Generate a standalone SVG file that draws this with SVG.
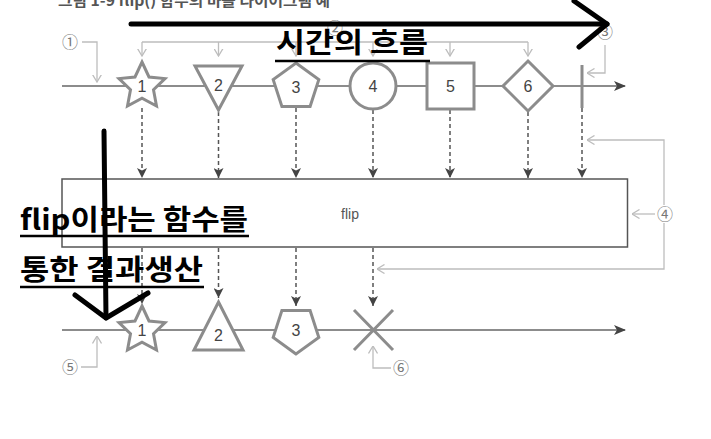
<svg xmlns="http://www.w3.org/2000/svg" width="711" height="439" viewBox="0 0 711 439">
<style>
.shape{fill:#fff;stroke:#8c8c8c;stroke-width:3;stroke-linejoin:miter}
.lbl{font-family:"Liberation Sans",Arial,sans-serif;font-size:16px;fill:#444;text-anchor:middle}
.axis{stroke:#666;stroke-width:1.5;fill:none}
.dash{stroke:#555;stroke-width:1.5;stroke-dasharray:4 3;fill:none}
.ann{stroke:#bdbdbd;stroke-width:1.3;fill:none}
.num{font-family:"Noto Sans CJK KR","DejaVu Sans",sans-serif;font-size:16px;fill:#777;text-anchor:middle}
.over{font-family:"Noto Sans CJK KR","Noto Sans",sans-serif;font-weight:bold;font-size:28px;fill:#000}
.ink{stroke:#000;stroke-width:5;fill:none;stroke-linecap:round;stroke-linejoin:round}
.uline{stroke:#000;stroke-width:2.5}
</style>
<defs>
<marker id="axisHead" viewBox="0 0 12 10" refX="11" refY="5" markerWidth="12" markerHeight="10" markerUnits="userSpaceOnUse" orient="auto">
<path d="M0,0 L12,5 L0,10 L3,5 Z" fill="#444"/>
</marker>
<marker id="dashHead" viewBox="0 0 10 10" refX="10" refY="5" markerWidth="10" markerHeight="10" markerUnits="userSpaceOnUse" orient="auto">
<path d="M0,0 L10,5 L0,10 L2.5,5 Z" fill="#444"/>
</marker>
<marker id="openHead" viewBox="0 0 8 10" refX="7.5" refY="5" markerWidth="8" markerHeight="10" markerUnits="userSpaceOnUse" orient="auto">
<path d="M0,0.5 L7.5,5 L0,9.5" fill="none" stroke="#bdbdbd" stroke-width="1.3"/>
</marker>
<path id="star" d="M0,-24 L7,-9 L23,-7.4 L11.5,3.8 L14.5,20 L0,12.2 L-14.5,20 L-11.5,3.8 L-23,-7.4 L-7,-9 Z"/>
</defs>

<rect width="711" height="439" fill="#fff"/>

<text x="58" y="6" font-family="Noto Sans CJK KR,sans-serif" font-size="15" font-weight="bold" fill="#555" textLength="272" lengthAdjust="spacingAndGlyphs">그림 1-9 flip() 함수의 마블 다이어그램 예</text>

<g id="connectors">
<line class="axis" x1="62" y1="86" x2="625" y2="86" marker-end="url(#axisHead)"/>
<line class="axis" x1="62" y1="330" x2="625" y2="330" marker-end="url(#axisHead)"/>
<line class="dash" x1="142" y1="108" x2="142" y2="178" marker-end="url(#dashHead)"/>
<line class="dash" x1="218.5" y1="112" x2="218.5" y2="178" marker-end="url(#dashHead)"/>
<line class="dash" x1="296" y1="108" x2="296" y2="178" marker-end="url(#dashHead)"/>
<line class="dash" x1="373" y1="110" x2="373" y2="178" marker-end="url(#dashHead)"/>
<line class="dash" x1="450" y1="110" x2="450" y2="178" marker-end="url(#dashHead)"/>
<line class="dash" x1="528" y1="112" x2="528" y2="178" marker-end="url(#dashHead)"/>
<line class="dash" x1="582" y1="108" x2="582" y2="178" marker-end="url(#dashHead)"/>
<line class="dash" x1="142" y1="248" x2="142" y2="304" marker-end="url(#dashHead)"/>
<line class="dash" x1="218.5" y1="248" x2="218.5" y2="298" marker-end="url(#dashHead)"/>
<line class="dash" x1="296" y1="248" x2="296" y2="306" marker-end="url(#dashHead)"/>
<line class="dash" x1="373" y1="248" x2="373" y2="306" marker-end="url(#dashHead)"/>
</g>

<g id="annotations">
<text class="num" x="70" y="48">①</text>
<polyline class="ann" points="82,42 97,42 97,82" marker-end="url(#openHead)"/>
<text class="num" x="335" y="34">②</text>
<line class="ann" x1="142" y1="42" x2="528" y2="42"/>
<line class="ann" x1="142" y1="42" x2="142" y2="56" marker-end="url(#openHead)"/>
<line class="ann" x1="218.5" y1="42" x2="218.5" y2="56" marker-end="url(#openHead)"/>
<line class="ann" x1="296" y1="42" x2="296" y2="56" marker-end="url(#openHead)"/>
<line class="ann" x1="373" y1="42" x2="373" y2="56" marker-end="url(#openHead)"/>
<line class="ann" x1="450" y1="42" x2="450" y2="56" marker-end="url(#openHead)"/>
<line class="ann" x1="528" y1="42" x2="528" y2="56" marker-end="url(#openHead)"/>
<text class="num" x="605" y="38">③</text>
<polyline class="ann" points="605,45 605,73 587,73" marker-end="url(#openHead)"/>
<text class="num" x="665" y="220">④</text>
<line class="ann" x1="655" y1="214" x2="632" y2="214" marker-end="url(#openHead)"/>
<polyline class="ann" points="664,205 664,140 587,140" marker-end="url(#openHead)"/>
<polyline class="ann" points="664,223 664,269 377,269" marker-end="url(#openHead)"/>
<text class="num" x="70" y="373">⑤</text>
<polyline class="ann" points="81,367 97,367 97,336" marker-end="url(#openHead)"/>
<text class="num" x="401" y="374">⑥</text>
<polyline class="ann" points="391,368 373,368 373,346" marker-end="url(#openHead)"/>
</g>

<g id="node-star1"><use href="#star" class="shape" transform="translate(142,86)"/><text class="lbl" x="142" y="92">1</text></g>
<g id="node-tri2"><polygon class="shape" points="195,66 242,66 218.5,110"/><text class="lbl" x="218.5" y="91">2</text></g>
<g id="node-pent3"><polygon class="shape" points="296,63 318.8,79.6 310.1,106.4 281.9,106.4 273.2,79.6"/><text class="lbl" x="296" y="93">3</text></g>
<g id="node-circle4"><circle class="shape" cx="373" cy="86" r="23"/><text class="lbl" x="373" y="92">4</text></g>
<g id="node-square5"><rect class="shape" x="427" y="63" width="47" height="46"/><text class="lbl" x="450.5" y="92">5</text></g>
<g id="node-diamond6"><polygon class="shape" points="528,61 553,86 528,111 503,86"/><text class="lbl" x="528" y="92">6</text></g>
<g id="node-complete"><line x1="582" y1="65" x2="582" y2="108" stroke="#8c8c8c" stroke-width="3"/></g>

<g id="node-flip"><rect x="62" y="179" width="565.5" height="68" fill="#fff" stroke="#555" stroke-width="1.5"/><text x="350" y="219" font-family="Liberation Sans,Arial,sans-serif" font-size="14" fill="#555" text-anchor="middle">flip</text></g>

<g id="node-out-star1"><use href="#star" class="shape" transform="translate(142,330)"/><text class="lbl" x="142" y="336">1</text></g>
<g id="node-out-tri2"><polygon class="shape" points="218.5,302 243,350 194,350"/><text class="lbl" x="218.5" y="341">2</text></g>
<g id="node-out-pent3"><polygon class="shape" points="296,354 273.2,337.4 281.9,310.6 310.1,310.6 318.8,337.4"/><text class="lbl" x="296" y="336">3</text></g>
<g id="node-out-error"><path d="M354,310 L393,350 M393,310 L354,350" stroke="#8c8c8c" stroke-width="3" fill="none"/></g>

<g id="overlay">
<text class="over" x="276" y="53" textLength="152" lengthAdjust="spacingAndGlyphs">시간의 흐름</text>
<line class="uline" x1="275" y1="61" x2="430" y2="61"/>
<text class="over" x="20" y="230" textLength="228" lengthAdjust="spacingAndGlyphs">flip이라는 함수를</text>
<line class="uline" x1="20" y1="236" x2="249" y2="236"/>
<text class="over" x="20" y="280" textLength="183" lengthAdjust="spacingAndGlyphs">통한 결과생산</text>
<line class="uline" x1="20" y1="287" x2="204" y2="287"/>
<line class="ink" x1="131" y1="24" x2="607" y2="24"/>
<polyline class="ink" points="574,1 607,24 579,47"/>
<line class="ink" x1="104" y1="131" x2="106" y2="318"/>
<polyline class="ink" points="75,295 106,318 148,293"/>
</g>
</svg>
